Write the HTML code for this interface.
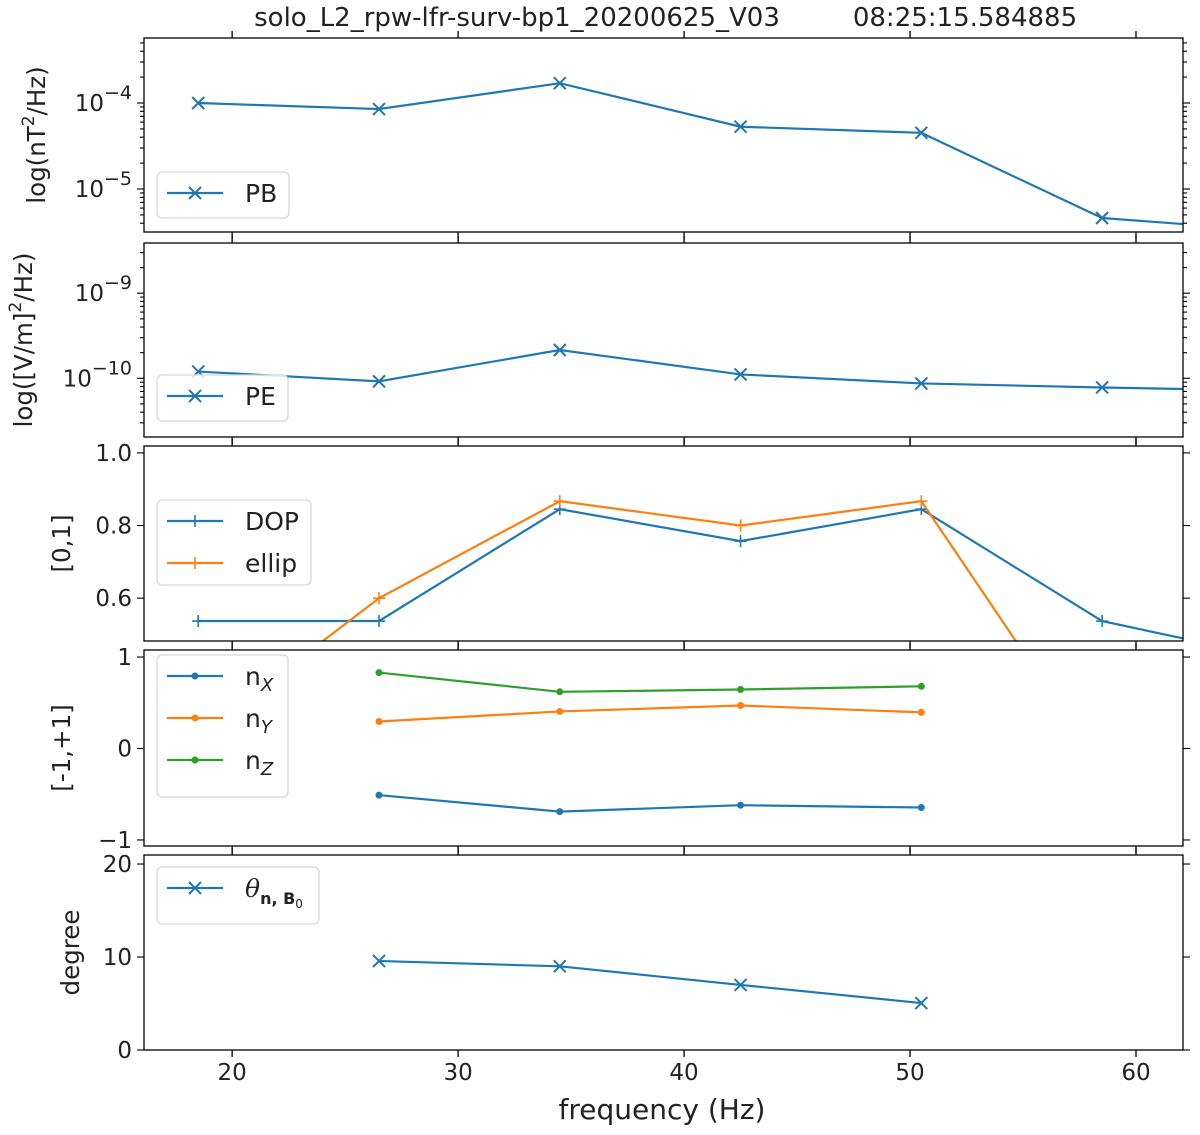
<!DOCTYPE html>
<html><head><meta charset="utf-8"><style>
body{margin:0;background:#fff}
svg text{font-family:"DejaVu Sans","Liberation Sans",sans-serif;fill:#222}
</style></head><body>
<svg id="fig" width="1200" height="1130" xmlns="http://www.w3.org/2000/svg">
<text x="517" y="26" font-size="26" text-anchor="middle">solo_L2_rpw-lfr-surv-bp1_20200625_V03</text>
<text x="965" y="26" font-size="26" text-anchor="middle">08:25:15.584885</text>
</svg>
<script>
const freqs=[18.5,26.5,34.5,42.5,50.5,58.5,66.5];
const pbValues=[1.0e-4,8.5e-5,1.7e-4,5.3e-5,4.5e-5,4.6e-6,3.2e-6];
const peValues=[1.2e-10,9.2e-11,2.15e-10,1.11e-10,8.7e-11,7.8e-11,7.1e-11];
const dopValues=[0.537,0.537,0.845,0.757,0.845,0.537,0.43];
const ellipValues=[0.22,0.60,0.867,0.80,0.867,0.13];
const nFreqs=[26.5,34.5,42.5,50.5];
const nxValues=[-0.51,-0.69,-0.62,-0.645];
const nyValues=[0.295,0.405,0.47,0.395];
const nzValues=[0.83,0.62,0.645,0.68];
const thetaValues=[9.57,9.0,7.0,5.05];
const xTicks=[20,30,40,50,60];

const NS="http://www.w3.org/2000/svg";
const svg=document.getElementById('fig');
const BLUE="#1f77b4",ORANGE="#ff7f0e",GREEN="#2ca02c";
const X0=144,X1=1183,XMIN=16.1,XMAX=62.08;
const sx=f=>X0+(f-XMIN)/(XMAX-XMIN)*(X1-X0);
function mk(tag,attrs,parent){const e=document.createElementNS(NS,tag);for(const k in attrs)e.setAttribute(k,attrs[k]);(parent||svg).appendChild(e);return e;}

const panels=[
 {top:38,bot:232,log:true,min:-5.5,max:-3.244,name:'pb-panel'},
 {top:243,bot:437,log:true,min:-10.69,max:-8.41,name:'pe-panel'},
 {top:446,bot:641,log:false,min:0.482,max:1.019,name:'dop-panel'},
 {top:650,bot:846,log:false,min:-1.066,max:1.077,name:'n-panel'},
 {top:855,bot:1050,log:false,min:0,max:20.97,name:'theta-panel'}
];
panels.forEach((p,i)=>{
 p.sy=v=>{const t=p.log?Math.log10(v):v;return p.bot-(t-p.min)/(p.max-p.min)*(p.bot-p.top);};
 const g=mk('g',{});
 
 
 p.g=g;
 const cid='clip'+i;
 const cp=mk('clipPath',{id:cid},g);mk('rect',{x:X0,y:p.top,width:X1-X0,height:p.bot-p.top},cp);
 p.plot=mk('g',{'clip-path':'url(#'+cid+')'},g);
});
function axes(p){
 const g=p.g;
 const r=mk('rect',{x:X0,y:p.top,width:X1-X0,height:p.bot-p.top,fill:'none',stroke:'#000','stroke-width':1.3},g);
 
 
 xTicks.forEach(t=>{const x=sx(t);
  mk('line',{x1:x,x2:x,y1:p.bot,y2:p.bot+7,stroke:'#000','stroke-width':1.3},g);
  mk('line',{x1:x,x2:x,y1:p.top,y2:p.top-7,stroke:'#000','stroke-width':1.3},g);});
}
function yTick(p,y,len){[[X0,X0-len],[X1,X1+len]].forEach(a=>mk('line',{x1:a[0],x2:a[1],y1:y,y2:y,stroke:'#000','stroke-width':1.1},p.g));}
function yLabel(p,y,txt,sup){const t=mk('text',{x:X0-12,y:y+8,'font-size':23,'text-anchor':'end'},p.g);
 
 
 if(sup){t.textContent=txt;const s=mk('tspan',{dy:-12,'font-size':19},t);s.textContent=sup;}else t.textContent=txt;}
function logAxis(p,decs){
 for(let d=Math.floor(p.min);d<=Math.ceil(p.max);d++){
  for(let m=1;m<10;m++){const v=m*Math.pow(10,d);const y=p.sy(v);if(y<p.top-0.5||y>p.bot+0.5)continue;
   yTick(p,y,m==1?7:4);}
 }
 decs.forEach(d=>yLabel(p,p.sy(Math.pow(10,d)),'10',String(d).replace('-','\u2212')));
}
function linAxis(p,ticks,labels){ticks.forEach((v,k)=>{const y=p.sy(v);yTick(p,y,7);yLabel(p,y,labels[k]);});}
function yTitle(p,txt,x,sup){const cy=(p.top+p.bot)/2;const t=mk('text',{x:x,y:cy,'font-size':24.5,'text-anchor':'middle',transform:'rotate(-90 '+x+' '+cy+')'},p.g);
 
 
 if(sup){t.textContent=sup[0];const s=mk('tspan',{dy:-11,'font-size':17},t);s.textContent=sup[1];const s2=mk('tspan',{dy:11},t);s2.textContent=sup[2];}else t.textContent=txt;}
function marker(g,x,y,type,c){
 if(type=='x'){mk('path',{d:`M${x-6} ${y-6}L${x+6} ${y+6}M${x-6} ${y+6}L${x+6} ${y-6}`,stroke:c,'stroke-width':2},g);}
 else if(type=='+'){mk('path',{d:`M${x-6} ${y}L${x+6} ${y}M${x} ${y-6}L${x} ${y+6}`,stroke:c,'stroke-width':1.6},g);}
 else mk('circle',{cx:x,cy:y,r:3.5,fill:c},g);
}
function series(p,xs,ys,c,type,name){
 const g=mk('g',{},p.plot);
 
 
 const pts=ys.map((v,k)=>[sx(xs[k]),p.sy(v)]);
 mk('polyline',{points:pts.map(q=>q.join(',')).join(' '),fill:'none',stroke:c,'stroke-width':2.2},g);
 pts.forEach(q=>marker(g,q[0],q[1],type,c));
}
function legend(p,x,y,w,h,entries){
 const g=mk('g',{},p.g);
 
 
 mk('rect',{x:x,y:y,width:w,height:h,rx:5,fill:'#fff','fill-opacity':0.85,stroke:'#d8d8d8','stroke-width':1.3},g);
 entries.forEach((e,k)=>{const cy=y+21+k*42;
  const eg=mk('g',{},g);
  
  
  mk('line',{x1:x+10,x2:x+66,y1:cy,y2:cy,stroke:e.c,'stroke-width':2.2},eg);
  marker(eg,x+38,cy,e.m,e.c);
  const t=mk('text',{x:x+88,y:cy+9,'font-size':25},eg);
  if(e.sub){t.textContent=e.t;const s=mk('tspan',{dy:6,'font-size':18,'font-style':'italic'},t);s.textContent=e.sub;}
  else if(e.theta){const a=mk('tspan',{'font-style':'italic','font-family':'DejaVu Serif, serif'},t);a.textContent='θ';
   const b=mk('tspan',{dy:7,'font-size':16,'font-weight':'bold'},t);b.textContent='n, B';
   const c2=mk('tspan',{dy:4,'font-size':12},t);c2.textContent='0';}
  else t.textContent=e.t;});
}
const [p1,p2,p3,p4,p5]=panels;
series(p1,freqs,pbValues,BLUE,'x','pb-line');
series(p2,freqs,peValues,BLUE,'x','pe-line');
series(p3,freqs,dopValues,BLUE,'+','dop-line');
series(p3,freqs.slice(0,6),ellipValues,ORANGE,'+','ellip-line');
series(p4,nFreqs,nxValues,BLUE,'o','nx-line');
series(p4,nFreqs,nyValues,ORANGE,'o','ny-line');
series(p4,nFreqs,nzValues,GREEN,'o','nz-line');
series(p5,nFreqs,thetaValues,BLUE,'x','theta-line');
panels.forEach(axes);
logAxis(p1,[-4,-5]);logAxis(p2,[-9,-10]);
linAxis(p3,[0.6,0.8,1.0],['0.6','0.8','1.0']);
linAxis(p4,[-1,0,1],['\u22121','0','1']);
linAxis(p5,[0,10,20],['0','10','20']);
yTitle(p1,'',45,['log(nT','2','/Hz)']);
yTitle(p2,'',32,['log([V/m]','2','/Hz)']);
yTitle(p3,'[0,1]',70);yTitle(p4,'[-1,+1]',70);yTitle(p5,'degree',79);
legend(p1,157,172,132,46,[{t:'PB',c:BLUE,m:'x'}]);
legend(p2,157,375,131,46,[{t:'PE',c:BLUE,m:'x'}]);
legend(p3,157,500,154,85,[{t:'DOP',c:BLUE,m:'+'},{t:'ellip',c:ORANGE,m:'+'}]);
legend(p4,157,655,131,142,[{t:'n',sub:'X',c:BLUE,m:'o'},{t:'n',sub:'Y',c:ORANGE,m:'o'},{t:'n',sub:'Z',c:GREEN,m:'o'}]);
legend(p5,157,867,162,57,[{theta:true,c:BLUE,m:'x'}]);
xTicks.forEach(t=>{const e=mk('text',{x:sx(t),y:1080,'font-size':23,'text-anchor':'middle'});
 
 
 e.textContent=t;});
const xt=mk('text',{x:662,y:1119,'font-size':28,'text-anchor':'middle'});


xt.textContent='frequency (Hz)';
</script>
</body></html>
